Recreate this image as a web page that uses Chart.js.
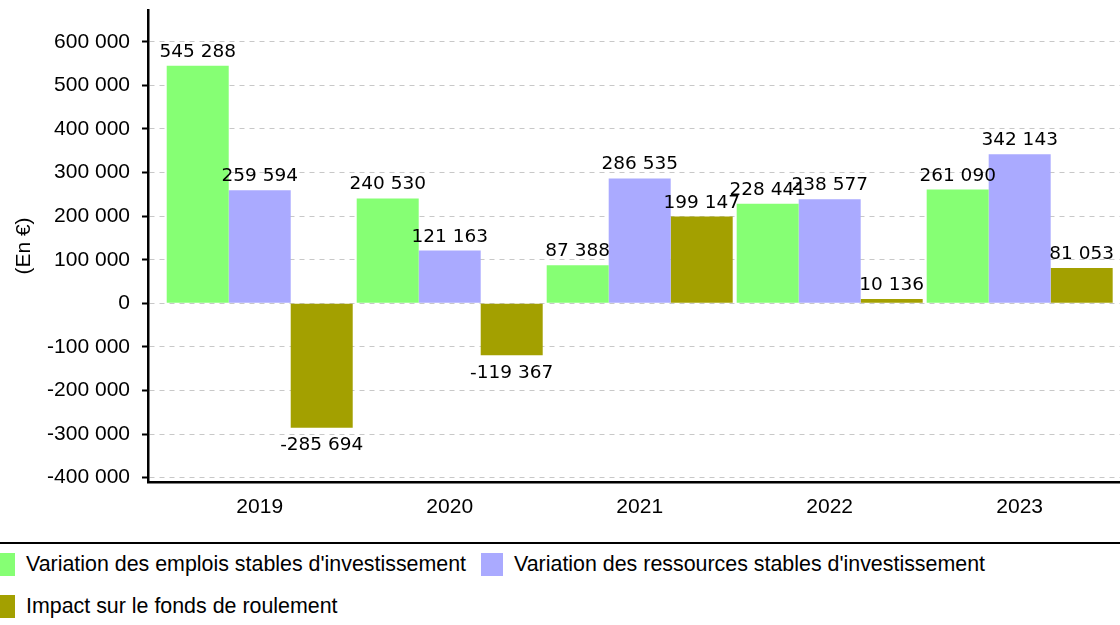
<!DOCTYPE html>
<html lang="fr">
<head>
<meta charset="utf-8">
<script src="https://cdn.jsdelivr.net/npm/chart.js@4.4.0/dist/chart.umd.min.js"></script>
<style>
  html, body { margin: 0; padding: 0; background: #fff; }
  body { width: 1120px; height: 625px; position: relative; overflow: hidden; }
  #wrap { position: absolute; left: 0; top: 0; width: 1120px; height: 540px; }
  #legendLine { position: absolute; left: 0; top: 542px; width: 1120px; height: 2px; background: #000; }
  #legend {
    position: absolute; left: -7px; top: 553px; width: 1127px;
    display: flex; flex-wrap: wrap; row-gap: 19px;
    font-family: "Liberation Sans", Arial, sans-serif; font-size: 21.4px; color: #000;
  }
  .item { display: flex; align-items: center; margin-right: 15px; height: 23px; }
  .box { width: 22px; height: 23px; margin-right: 11px; flex: none; }
</style>
</head>
<body>
<div id="wrap"><canvas id="chart"></canvas></div>
<div id="legendLine"></div>
<div id="legend"></div>
<script>
const years = [2019, 2020, 2021, 2022, 2023];
const emplois = [545288, 240530, 87388, 228441, 261090];
const ressources = [259594, 121163, 286535, 238577, 342143];
const impactFdr = [-285694, -119367, 199147, 10136, 81053];
const yTicks = [-400000, -300000, -200000, -100000, 0, 100000, 200000, 300000, 400000, 500000, 600000];
const seriesLabels = [
  "Variation des emplois stables d'investissement",
  "Variation des ressources stables d'investissement",
  "Impact sur le fonds de roulement"
];
const seriesColors = ["#86ff74", "#aaaaff", "#a3a000"];

function fmt(v) {
  const s = String(Math.abs(Math.round(v))).replace(/\B(?=(\d{3})+(?!\d))/g, " ");
  return (v < 0 ? "-" : "") + s;
}

const seriesValues = [emplois, ressources, impactFdr];
const datasets = seriesValues.map((vals, k) => ({
  label: seriesLabels[k],
  data: years.map((yr, i) => ({ x: yr, y: vals[i] })),
  backgroundColor: seriesColors[k],
  borderWidth: 0,
  categoryPercentage: 0.979,
  barPercentage: 1
}));

// valeurs au-dessus / en dessous des barres
const valueLabels = {
  id: "valueLabels",
  afterDatasetsDraw(chart) {
    const ctx = chart.ctx;
    ctx.save();
    ctx.font = '18.5px "DejaVu Sans", sans-serif';
    ctx.fillStyle = "#000";
    ctx.textAlign = "center";
    ctx.textBaseline = "alphabetic";
    chart.data.datasets.forEach((ds, di) => {
      const meta = chart.getDatasetMeta(di);
      meta.data.forEach((bar, i) => {
        const v = ds.data[i].y;
        const y = v >= 0 ? bar.y - 9 : bar.y + 22.5;
        ctx.fillText(fmt(v), bar.x, y);
      });
    });
    ctx.restore();
  }
};

const tickFont = { family: '"Liberation Sans", Arial, sans-serif', size: 21 };

new Chart(document.getElementById("chart"), {
  type: "bar",
  data: { datasets },
  plugins: [valueLabels],
  options: {
    responsive: true,
    maintainAspectRatio: false,
    animation: false,
    layout: { padding: { top: 10, left: 0, right: 0, bottom: 0 } },
    plugins: {
      legend: { display: false },
      tooltip: { enabled: false }
    },
    scales: {
      x: {
        type: "linear",
        offset: false,
        min: 2018.412,
        max: 2023.528,
        grid: { display: false, drawTicks: false, offset: false },
        border: { display: true, color: "#000", width: 2.5 },
        afterBuildTicks(scale) {
          scale.ticks = years.map((v) => ({ value: v }));
        },
        ticks: {
          padding: 13,
          color: "#000",
          font: tickFont,
          maxRotation: 0,
          autoSkip: false,
          callback: (v) => String(v)
        },
        afterFit(scale) {
          scale.height = 58;
          scale.paddingLeft = 0;
          scale.paddingRight = 0;
        }
      },
      y: {
        min: -410000,
        max: 673000,
        grid: {
          color: "#c8c8c8",
          lineWidth: 1,
          tickBorderDash: [],
          tickColor: "#000",
          tickWidth: 2,
          tickLength: 6
        },
        border: { display: true, color: "#000", width: 2.5, dash: [5, 5] },
        afterBuildTicks(scale) {
          scale.ticks = yTicks.map((v) => ({ value: v }));
        },
        ticks: {
          padding: 12,
          color: "#000",
          font: tickFont,
          autoSkip: false,
          callback: (v) => fmt(v)
        },
        title: {
          display: true,
          text: "(En €)",
          color: "#000",
          font: tickFont,
          padding: { top: 12, bottom: 0 }
        },
        afterFit(scale) {
          scale.width = 148;
          scale.paddingTop = 0;
          scale.paddingBottom = 0;
        }
      }
    }
  }
});

// légende HTML
const legendEl = document.getElementById("legend");
seriesLabels.forEach((lab, k) => {
  const item = document.createElement("div");
  item.className = "item";
  const box = document.createElement("span");
  box.className = "box";
  box.style.background = seriesColors[k];
  const txt = document.createElement("span");
  txt.textContent = lab;
  item.appendChild(box);
  item.appendChild(txt);
  legendEl.appendChild(item);
});
</script>
</body>
</html>
